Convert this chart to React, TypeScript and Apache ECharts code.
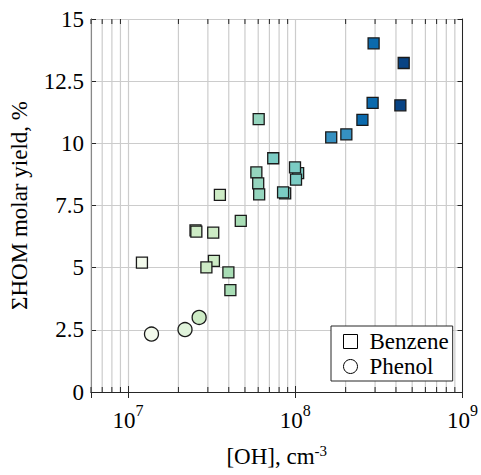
import React, { useEffect, useRef } from "react";
import * as echarts from "echarts";

const benzene: [number, number][] = [
  [1.21e7, 5.2],
  [2.53e7, 6.5],
  [2.56e7, 6.45],
  [3.23e7, 6.41],
  [3.26e7, 5.27],
  [2.94e7, 5.01],
  [3.54e7, 7.93],
  [3.98e7, 4.81],
  [4.09e7, 4.1],
  [4.72e7, 6.88],
  [5.85e7, 8.83],
  [6.0e7, 8.39],
  [6.08e7, 7.95],
  [6.04e7, 10.97],
  [7.38e7, 9.4],
  [8.7e7, 7.99],
  [8.45e7, 8.03],
  [1.04e8, 8.8],
  [9.96e7, 9.03],
  [1.01e8, 8.54],
  [1.64e8, 10.24],
  [2.02e8, 10.36],
  [2.52e8, 10.94],
  [2.9e8, 11.63],
  [2.94e8, 14.02],
  [4.25e8, 11.53],
  [4.45e8, 13.23],
];

const phenol: [number, number][] = [
  [1.38e7, 2.33],
  [2.19e7, 2.51],
  [2.66e7, 3.0],
];

const minorTicks: number[] = [
  6e6, 7e6, 8e6, 9e6,
  2e7, 3e7, 4e7, 5e7, 6e7, 7e7, 8e7, 9e7,
  2e8, 3e8, 4e8, 5e8, 6e8, 7e8, 8e8, 9e8,
];

const yTicks: number[] = [0, 2.5, 5, 7.5, 10, 12.5, 15];

const colourStops = [
  { lt: 1.5e7, color: "#f3faec" },
  { gte: 1.5e7, lt: 2.35e7, color: "#e0f3db" },
  { gte: 2.35e7, lt: 3.8e7, color: "#cdebc5" },
  { gte: 3.8e7, lt: 5.3e7, color: "#a8ddb5" },
  { gte: 5.3e7, lt: 6.8e7, color: "#95d5be" },
  { gte: 6.8e7, lt: 1.3e8, color: "#7bccc4" },
  { gte: 1.3e8, lt: 2.3e8, color: "#3590c1" },
  { gte: 2.3e8, lt: 3.5e8, color: "#0b6aad" },
  { gte: 3.5e8, color: "#084384" },
];

const FONT = "Liberation Serif";
const AXIS_COLOR = "#262626";
const GRID_COLOR = "#cccccc";

export default function App() {
  const ref = useRef<HTMLDivElement>(null);

  useEffect(() => {
    if (!ref.current) return;
    const chart = echarts.init(ref.current, null, { renderer: "svg" });

    const xLabelFormatter = (v: number) => {
      const l = Math.log10(v);
      const e = Math.round(l);
      if (Math.abs(l - e) > 1e-6) return "";
      return `{base|10}{sup|${e}}`;
    };

    const yMin = yTicks[0];
    const yMax = yTicks[yTicks.length - 1];
    const yInterval = yTicks[1] - yTicks[0];

    chart.setOption({
      animation: false,
      backgroundColor: "#ffffff",
      textStyle: { fontFamily: FONT },
      grid: { left: 88, top: 19, right: 18, bottom: 83, containLabel: false },
      legend: {
        data: ["Benzene", "Phenol"],
        orient: "vertical",
        left: 331,
        top: 326,
        padding: [4, 4, 3, 12],
        itemGap: 2,
        itemWidth: 14,
        itemHeight: 14,
        backgroundColor: "#ffffff",
        borderColor: "#262626",
        borderWidth: 1,
        borderRadius: 0,
        itemStyle: { color: "#ffffff", borderColor: "#000000", borderWidth: 1 },
        textStyle: {
          fontFamily: "serif",
          fontSize: 23,
          fontWeight: "normal",
          fontStyle: "normal",
          color: "#000",
          padding: [0, 0, 0, 7],
        },
      },
      visualMap: {
        type: "piecewise",
        show: false,
        dimension: 0,
        seriesIndex: [1, 2],
        pieces: colourStops,
      },
      xAxis: [
        {
          type: "log",
          logBase: 10,
          min: 6e6,
          max: 1e9,
          position: "bottom",
          name: "[OH], cm{sup|-3}",
          nameLocation: "middle",
          nameGap: 51,
          nameTextStyle: {
            fontFamily: FONT,
            fontSize: 23,
            color: "#000",
            rich: {
              sup: { fontSize: 15, fontFamily: FONT, color: "#000", verticalAlign: "bottom", padding: [0, 0, 12, 0] },
            },
          },
          axisLine: { show: true, lineStyle: { color: AXIS_COLOR, width: 1 } },
          axisTick: { show: true, inside: true, length: 6, lineStyle: { color: AXIS_COLOR } },
          splitLine: { show: true, lineStyle: { color: GRID_COLOR, width: 1.2 } },
          axisLabel: {
            margin: 17,
            fontFamily: FONT,
            fontWeight: "normal",
            formatter: xLabelFormatter,
            showMinLabel: false,
            rich: {
              base: { fontSize: 23, fontFamily: FONT, fontWeight: "normal", color: "#000", lineHeight: 23, verticalAlign: "bottom" },
              sup: { fontSize: 16, fontFamily: FONT, fontWeight: "normal", color: "#000", lineHeight: 16, verticalAlign: "bottom", padding: [0, 0, 14, 0] },
            },
          },
        },
        {
          type: "log",
          logBase: 10,
          min: 6e6,
          max: 1e9,
          position: "top",
          axisLine: { show: true, lineStyle: { color: AXIS_COLOR, width: 1 } },
          axisTick: { show: true, inside: true, length: 6, lineStyle: { color: AXIS_COLOR } },
          splitLine: { show: false },
          axisLabel: { show: false },
        },
      ],
      yAxis: [
        {
          type: "value",
          min: yMin,
          max: yMax,
          interval: yInterval,
          position: "left",
          name: "ΣHOM molar yield, %",
          nameLocation: "middle",
          nameGap: 60,
          nameTextStyle: { fontFamily: FONT, fontSize: 23, color: "#000" },
          axisLine: { show: true, lineStyle: { color: AXIS_COLOR, width: 1 } },
          axisTick: { show: true, inside: true, length: 5, lineStyle: { color: AXIS_COLOR } },
          splitLine: { show: true, lineStyle: { color: GRID_COLOR, width: 1.2 } },
          axisLabel: {
            margin: 7,
            fontSize: 23,
            fontFamily: "Times New Roman",
            fontWeight: "normal",
            fontStyle: "normal",
            color: "#000",
          },
        },
        {
          type: "value",
          min: yMin,
          max: yMax,
          interval: yInterval,
          position: "right",
          axisLine: { show: true, lineStyle: { color: AXIS_COLOR, width: 1 } },
          axisTick: { show: true, inside: true, length: 5, lineStyle: { color: AXIS_COLOR } },
          splitLine: { show: false },
          axisLabel: { show: false },
        },
      ],
      series: [
        {
          type: "custom",
          name: "minor",
          xAxisIndex: 0,
          yAxisIndex: 0,
          z: 1,
          silent: true,
          data: minorTicks.map((v) => [v, yMin]),
          encode: { x: 0, y: 1 },
          renderItem: (_params: any, api: any) => {
            const x = api.value(0);
            const b = api.coord([x, yMin]);
            const t = api.coord([x, yMax]);
            return {
              type: "group",
              children: [
                {
                  type: "line",
                  shape: { x1: b[0], y1: b[1], x2: t[0], y2: t[1] },
                  style: { stroke: GRID_COLOR, lineWidth: 1.2 },
                },
                {
                  type: "line",
                  shape: { x1: b[0], y1: b[1], x2: b[0], y2: b[1] - 5 },
                  style: { stroke: AXIS_COLOR, lineWidth: 1 },
                },
                {
                  type: "line",
                  shape: { x1: t[0], y1: t[1], x2: t[0], y2: t[1] + 5 },
                  style: { stroke: AXIS_COLOR, lineWidth: 1 },
                },
              ],
            };
          },
        },
        {
          type: "scatter",
          name: "Benzene",
          symbol: "rect",
          symbolSize: 11,
          z: 3,
          data: benzene,
          itemStyle: { color: "#ffffff", borderColor: "#1a1a1a", borderWidth: 1.3, opacity: 1 },
        },
        {
          type: "scatter",
          name: "Phenol",
          symbol: "circle",
          symbolSize: 14,
          z: 3,
          data: phenol,
          itemStyle: { color: "#ffffff", borderColor: "#1a1a1a", borderWidth: 1.3, opacity: 1 },
        },
      ],
    });

    return () => chart.dispose();
  }, []);

  return (
    <div
      ref={ref}
      style={{ position: "fixed", left: 0, top: 0, width: 481, height: 475 }}
    />
  );
}
